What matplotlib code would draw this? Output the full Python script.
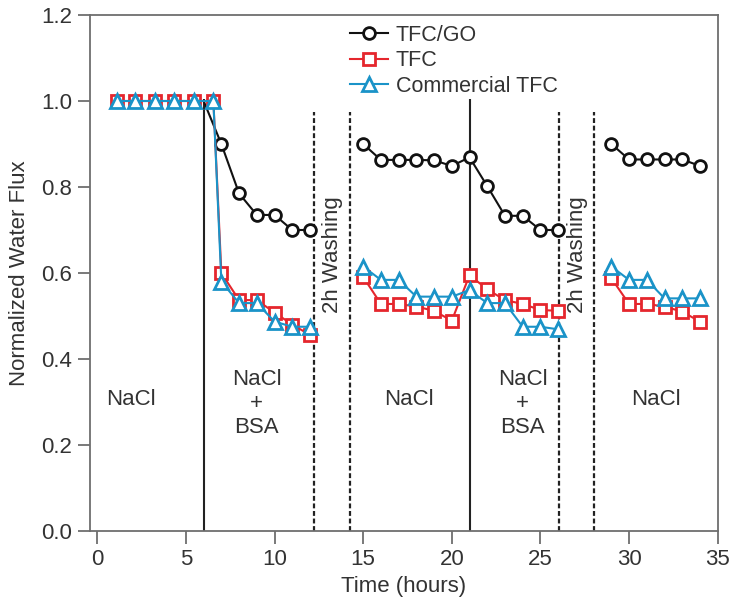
import matplotlib
matplotlib.use("Agg")
import matplotlib.pyplot as plt

plt.rcParams['font.family'] = ['Liberation Sans', 'DejaVu Sans']

# ---- data ----
# TFC/GO (first point at x=6 is the start of the drop, drawn without marker)
go_x1 = [6, 7, 8, 9, 10, 11, 12]
go_y1 = [1.0, 0.90, 0.785, 0.735, 0.735, 0.70, 0.70]
go_x2 = [15, 16, 17, 18, 19, 20, 21, 22, 23, 24, 25, 26]
go_y2 = [0.90, 0.863, 0.863, 0.863, 0.862, 0.849, 0.869, 0.802, 0.733, 0.733, 0.70, 0.70]
go_x3 = [29, 30, 31, 32, 33, 34]
go_y3 = [0.90, 0.864, 0.864, 0.864, 0.864, 0.849]

# TFC
tfc_x1 = [1.1, 2.15, 3.25, 4.35, 5.45, 6.55, 7, 8, 9, 10, 11, 12]
tfc_y1 = [1.0, 1.0, 1.0, 1.0, 1.0, 1.0, 0.60, 0.537, 0.537, 0.508, 0.48, 0.456]
tfc_x2 = [15, 16, 17, 18, 19, 20, 21, 22, 23, 24, 25, 26]
tfc_y2 = [0.591, 0.528, 0.528, 0.522, 0.512, 0.489, 0.595, 0.562, 0.537, 0.528, 0.514, 0.512]
tfc_x3 = [29, 30, 31, 32, 33, 34]
tfc_y3 = [0.588, 0.528, 0.528, 0.522, 0.510, 0.487]

# Commercial TFC
com_x1 = [1.1, 2.15, 3.25, 4.35, 5.45, 6.55, 7, 8, 9, 10, 11, 12]
com_y1 = [1.0, 1.0, 1.0, 1.0, 1.0, 1.0, 0.58, 0.53, 0.53, 0.487, 0.475, 0.475]
com_x2 = [15, 16, 17, 18, 19, 20, 21, 22, 23, 24, 25, 26]
com_y2 = [0.615, 0.584, 0.584, 0.545, 0.545, 0.545, 0.560, 0.530, 0.530, 0.475, 0.475, 0.469]
com_x3 = [29, 30, 31, 32, 33, 34]
com_y3 = [0.615, 0.584, 0.584, 0.541, 0.541, 0.541]

solid_x = [6, 21]
dashed_x = [12.2, 14.25, 26.05, 28.0]

phase_labels = ["NaCl", "NaCl\n+\nBSA", "NaCl", "NaCl\n+\nBSA", "NaCl"]
phase_x = [1.9, 9.0, 17.6, 24.0, 31.5]
phase_y = [0.305, 0.297, 0.305, 0.297, 0.305]
wash_label = "2h Washing"
wash_x = [13.25, 27.1]

series_names = ["TFC/GO", "TFC", "Commercial TFC"]

# ---- style ----
c_go = '#111111'
c_tfc = '#e5262d'
c_com = '#1a93c8'
txt = '#333333'
spine_c = '#6e6e6e'
FS = 16

fig = plt.figure(figsize=(7.34, 6.05), dpi=100)
ax = fig.add_axes([90/734, 1-531/605, (717.7-90)/734, (531-15)/605])

# vertical markers
ax.vlines(solid_x, 0, 1.005, colors='#222222', linewidth=1.5, zorder=1)
ax.vlines(dashed_x, 0, 0.975, colors='#222222', linewidth=1.6,
          linestyles=(0, (2.2, 1.2)), zorder=1)

go_kw = dict(color=c_go, marker='o', markersize=8.5, markeredgewidth=2.0,
             markerfacecolor='white', linewidth=1.5, zorder=3)
tfc_kw = dict(color=c_tfc, marker='s', markersize=9, markeredgewidth=2.0,
              markerfacecolor='white', linewidth=1.5, zorder=4)
com_kw = dict(color=c_com, marker='^', markersize=10.5, markeredgewidth=2.0,
              markerfacecolor='white', linewidth=1.5, zorder=5)

l_go, = ax.plot(go_x1, go_y1, markevery=list(range(1, len(go_x1))), **go_kw)
ax.plot(go_x2, go_y2, **go_kw)
ax.plot(go_x3, go_y3, **go_kw)

l_tfc, = ax.plot(tfc_x1, tfc_y1, **tfc_kw)
ax.plot(tfc_x2, tfc_y2, **tfc_kw)
ax.plot(tfc_x3, tfc_y3, **tfc_kw)

l_com, = ax.plot(com_x1, com_y1, **com_kw)
ax.plot(com_x2, com_y2, **com_kw)
ax.plot(com_x3, com_y3, **com_kw)

for lab, x, y in zip(phase_labels, phase_x, phase_y):
    ax.text(x, y, lab, ha='center', va='center', fontsize=FS, color=txt,
            linespacing=1.2)
for x in wash_x:
    ax.text(x, 0.642, wash_label, ha='center', va='center', rotation=90,
            fontsize=FS, color=txt)

ax.set_xlim(-0.41, 35)
ax.set_ylim(0, 1.2)
ax.set_xticks([0, 5, 10, 15, 20, 25, 30, 35])
ax.set_yticks([0.0, 0.2, 0.4, 0.6, 0.8, 1.0, 1.2])
ax.set_yticklabels([f"{v:.1f}" for v in [0.0, 0.2, 0.4, 0.6, 0.8, 1.0, 1.2]])
ax.tick_params(axis='both', direction='out', length=9, width=1.3,
               colors=spine_c, labelcolor=txt, labelsize=FS, pad=4)
for s in ax.spines.values():
    s.set_color(spine_c)
    s.set_linewidth(1.3)

ax.set_xlabel("Time (hours)", fontsize=FS, color=txt, labelpad=4)
ax.set_ylabel("Normalized Water Flux", fontsize=FS, color=txt, labelpad=8)

leg = ax.legend([l_go, l_tfc, l_com], series_names, loc='upper left',
                bbox_to_anchor=(0.41, 0.985), frameon=False, fontsize=FS - 0.5,
                handlelength=1.8, handletextpad=0.35, labelspacing=0.2,
                borderpad=0.1, borderaxespad=0.0)
for t in leg.get_texts():
    t.set_color(txt)

fig.savefig("out.png", dpi=100)
